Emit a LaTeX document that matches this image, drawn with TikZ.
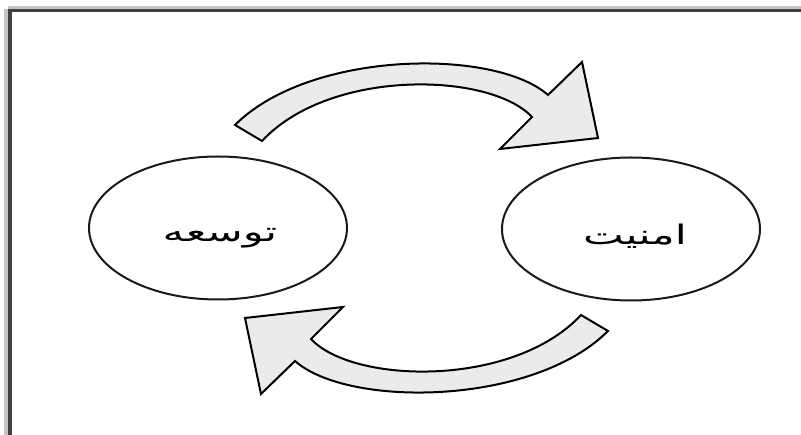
\documentclass[tikz,border=0pt]{standalone}
\usepackage{fontspec}
\usetikzlibrary{shapes.geometric}
\TeXXeTstate=1
\newfontfamily\arabicfont[Script=Arabic]{DejaVu Sans}
\definecolor{framedark}{HTML}{404040}
\definecolor{framelight}{HTML}{C4C4C4}
\definecolor{arrowfill}{HTML}{EBEBEB}
\tikzset{
  cycle ellipse/.style={ellipse, draw=black!90, line width=2pt,
    minimum width=258pt, minimum height=143pt, inner sep=0pt},
  cycle label/.style={font=\arabicfont\fontsize{27}{30}\selectfont, text=black, inner sep=0pt, xscale=1.6},
  block arrow/.style={draw=black, fill=arrowfill, line width=2pt, line join=miter},
}
\begin{document}
\begin{tikzpicture}[x=1pt,y=-1pt]
\useasboundingbox (0,0) rectangle (801,435);
\fill[white] (0,0) rectangle (801,435);
% frame
\fill[framelight] (8,6) rectangle (801,9);
\fill[framelight] (4,9) rectangle (8,435);
\fill[framedark] (8,9) rectangle (801,12.5);
\fill[framedark] (8,9) rectangle (12,435);
% ellipses
\node[cycle ellipse] (dev) at (218,228) {};
\node[cycle ellipse] (sec) at (631,229) {};
\node[cycle label] (devtext) at (220,238) {\beginR توسعه\endR};
\node[cycle label] (sectext) at (635,236) {\beginR امنیت\endR};
% top block arrow
\draw[block arrow] (235,125) .. controls (310,50) and (495,48) .. (548,95)
  -- (582,62) -- (598,138) -- (500,149) -- (532,117)
  .. controls (490,72) and (330,68) .. (262,141) -- cycle;
% bottom block arrow (point reflection of the top one)
\begin{scope}[rotate around={180:(421.5,228)}]
\draw[block arrow] (235,125) .. controls (310,50) and (495,48) .. (548,95)
  -- (582,62) -- (598,138) -- (500,149) -- (532,117)
  .. controls (490,72) and (330,68) .. (262,141) -- cycle;
\end{scope}
\end{tikzpicture}
\end{document}
